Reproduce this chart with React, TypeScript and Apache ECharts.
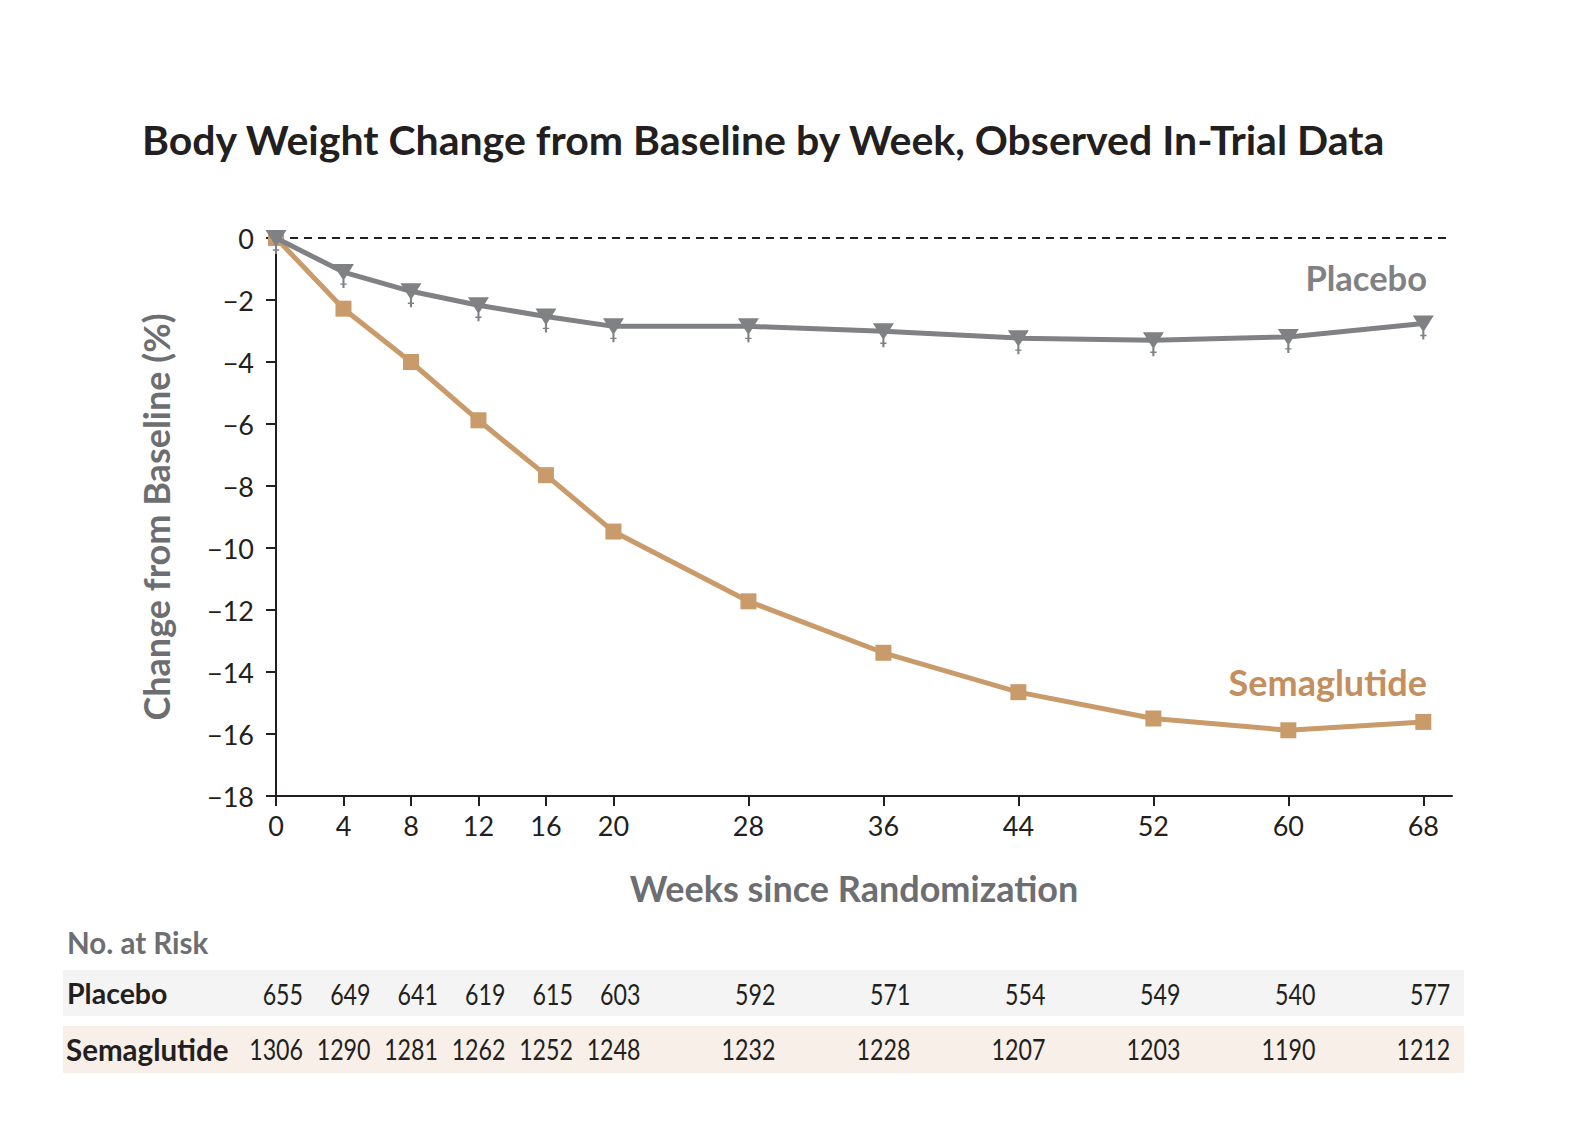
import React, { useEffect, useRef } from "react";
import * as echarts from "echarts";

const weeks = [0, 4, 8, 12, 16, 20, 28, 36, 44, 52, 60, 68];
const placeboChange = [0, -1.1, -1.72, -2.17, -2.53, -2.85, -2.85, -3.01, -3.23, -3.3, -3.19, -2.76];
const semaglutideChange = [0, -2.28, -4.0, -5.88, -7.65, -9.47, -11.72, -13.38, -14.65, -15.5, -15.88, -15.61];
const placeboAtRisk = [655, 649, 641, 619, 615, 603, 592, 571, 554, 549, 540, 577];
const semaglutideAtRisk = [1306, 1290, 1281, 1262, 1252, 1248, 1232, 1228, 1207, 1203, 1190, 1212];

const TITLE = "Body Weight Change from Baseline by Week, Observed In-Trial Data";
const GRAY = "#808184";
const TAN = "#C99B6A";
const DARK = "#231f20";
const LABEL_GRAY = "#6d6e71";
const FONT = "Lato, 'Open Sans', sans-serif";

const triPath =
  "path://M0,0L20,0L10,16Z M9,13L11,13L11,23L9,23Z M7,18.5L13,18.5L13,19.8L7,19.8Z";

export default function App() {
  const ref = useRef<HTMLDivElement>(null);

  useEffect(() => {
    document.body.style.margin = "0";
    const chart = echarts.init(ref.current!, null, { renderer: "svg" });

    const option: any = {
      animation: false,
      backgroundColor: "#ffffff",
      title: {
        text: TITLE,
        left: 137,
        top: 114,
        textStyle: { fontFamily: FONT, fontSize: 41, fontWeight: "bold", color: DARK },
      },
      grid: { left: 276, top: 238, right: 129, bottom: 331, containLabel: false },
      xAxis: {
        type: "value",
        min: 0,
        max: 69.7,
        name: "Weeks since Randomization",
        nameLocation: "middle",
        nameGap: 74,
        nameTextStyle: {
          fontFamily: FONT,
          fontSize: 36,
          fontWeight: "bold",
          color: LABEL_GRAY,
          padding: [0, 20, 0, 0],
        },
        axisLine: { show: true, onZero: false, lineStyle: { color: DARK, width: 2 } },
        axisTick: {
          show: true,
          customValues: weeks,
          length: 10,
          lineStyle: { color: DARK, width: 2 },
        },
        axisLabel: {
          customValues: weeks,
          margin: 16,
          fontFamily: FONT,
          fontSize: 27,
          color: DARK,
        },
        splitLine: { show: false },
      },
      yAxis: {
        type: "value",
        min: -18,
        max: 0,
        interval: 2,
        name: "Change from Baseline (%)",
        nameLocation: "middle",
        nameGap: 102,
        nameTextStyle: { fontFamily: FONT, fontSize: 36, fontWeight: "bold", color: LABEL_GRAY },
        axisLine: { show: true, onZero: false, lineStyle: { color: DARK, width: 2 } },
        axisTick: { show: true, length: 10, lineStyle: { color: DARK, width: 2 } },
        axisLabel: {
          margin: 22,
          fontFamily: FONT,
          fontSize: 27,
          color: DARK,
          formatter: (v: number) => String(v).replace("-", "\u2212"),
        },
        splitLine: { show: false },
      },
      series: [
        {
          name: "Semaglutide",
          type: "line",
          data: weeks.map((w, i) => [w, semaglutideChange[i]]),
          symbol: "rect",
          symbolSize: 16,
          lineStyle: { color: TAN, width: 5 },
          itemStyle: { color: TAN },
          z: 3,
          markLine: {
            silent: true,
            symbol: ["none", "none"],
            label: { show: false },
            lineStyle: { color: DARK, width: 2, type: [8, 6] },
            data: [{ yAxis: 0 }],
            z: 1,
          },
        },
        {
          name: "Placebo",
          type: "line",
          data: weeks.map((w, i) => [w, placeboChange[i]]),
          symbol: triPath,
          symbolSize: [21, 24],
          symbolOffset: [0, 4],
          lineStyle: { color: GRAY, width: 5 },
          itemStyle: { color: GRAY },
          z: 4,
        },
      ],
    };

    chart.setOption(option);

    const px = (w: number) => chart.convertToPixel({ xAxisIndex: 0 }, w) as number;

    const txt = (
      text: string,
      x: number,
      y: number,
      size: number,
      weight: string,
      fill: string,
      align: string,
      scaleX = 1
    ) => ({
      type: "text",
      x,
      y,
      scaleX,
      style: {
        text,
        fontFamily: FONT,
        fontSize: size,
        fontWeight: weight,
        fill,
        align,
        textAlign: align,
        verticalAlign: "middle",
        textVerticalAlign: "middle",
      },
    });

    const graphics: any[] = [
      txt("Placebo", 1427, 277, 34.5, "bold", GRAY, "right"),
      txt("Semaglutide", 1427, 682, 36, "bold", "#C48E5E", "right"),
      txt("No. at Risk", 67, 942, 29.5, "bold", LABEL_GRAY, "left"),
      {
        type: "rect",
        shape: { x: 63, y: 970, width: 1401, height: 46 },
        style: { fill: "#f4f4f4" },
        z: -1,
      },
      {
        type: "rect",
        shape: { x: 63, y: 1026, width: 1401, height: 47 },
        style: { fill: "#f7efe8" },
        z: -1,
      },
      txt("Placebo", 67, 993, 28.5, "bold", DARK, "left"),
      txt("Semaglutide", 66, 1049, 29.5, "bold", DARK, "left"),
    ];

    weeks.forEach((w, i) => {
      const x = px(w) + 27;
      graphics.push(txt(String(placeboAtRisk[i]), x, 994, 29, "normal", DARK, "right", 0.8));
      graphics.push(txt(String(semaglutideAtRisk[i]), x, 1049, 29, "normal", DARK, "right", 0.8));
    });

    chart.setOption({ graphic: graphics });

    return () => chart.dispose();
  }, []);

  return <div ref={ref} style={{ width: 1581, height: 1127 }} />;
}
